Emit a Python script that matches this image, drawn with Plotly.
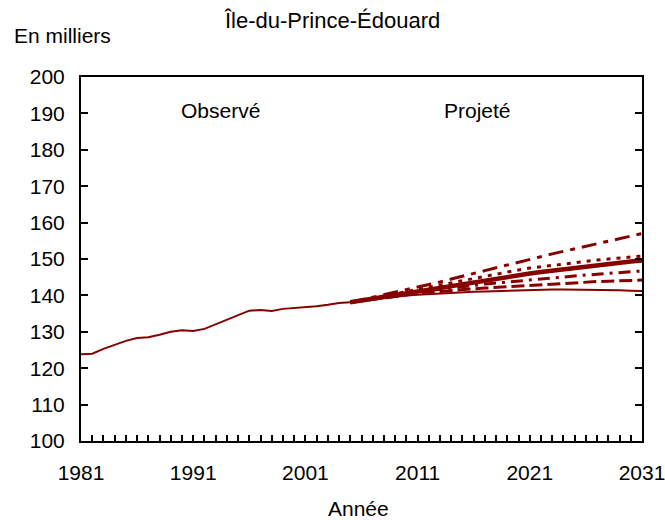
import plotly.graph_objects as go

obs_years = list(range(1981, 2006))
obs_values = [123.8, 124.0, 125.3, 126.5, 127.5, 128.3, 128.5, 129.2, 130.0, 130.4,
              130.2, 130.8, 132.1, 133.4, 134.5, 135.8, 136.0, 135.7, 136.3, 136.5,
              136.7, 137.0, 137.4, 137.9, 138.1]

proj_years = list(range(2005, 2032))
proj_high = [138.1, 138.8, 139.4, 140.1, 140.8, 141.4, 142.1, 142.9, 143.7, 144.5,
             145.2, 146.0, 146.8, 147.6, 148.4, 149.2, 150.0, 150.7, 151.4, 152.1,
             152.8, 153.5, 154.2, 154.9, 155.6, 156.3, 157.0]
proj_dot = [138.1, 138.7, 139.3, 139.9, 140.5, 141.1, 141.6, 142.3, 142.9, 143.6,
            144.2, 144.8, 145.4, 145.9, 146.5, 147.0, 147.5, 147.9, 148.3, 148.7,
            149.1, 149.4, 149.7, 150.0, 150.3, 150.6, 150.8]
proj_ref = [138.1, 138.6, 139.2, 139.7, 140.2, 140.7, 141.2, 141.7, 142.2, 142.8,
            143.3, 143.8, 144.3, 144.8, 145.2, 145.6, 146.0, 146.4, 146.8, 147.2,
            147.6, 148.0, 148.3, 148.7, 149.0, 149.3, 149.6]
proj_dashdot = [138.1, 138.6, 139.1, 139.6, 140.1, 140.5, 140.9, 141.3, 141.7, 142.1,
                142.5, 142.8, 143.1, 143.4, 143.7, 144.0, 144.2, 144.5, 144.8, 145.1,
                145.3, 145.6, 145.8, 146.1, 146.3, 146.5, 146.7]
proj_dash = [138.1, 138.5, 139.0, 139.5, 139.9, 140.3, 140.6, 140.9, 141.1, 141.4,
             141.6, 141.8, 142.0, 142.2, 142.4, 142.6, 142.8, 143.0, 143.2, 143.3,
             143.5, 143.6, 143.8, 143.9, 144.0, 144.1, 144.2]
proj_low = [138.1, 138.5, 138.9, 139.3, 139.7, 140.0, 140.2, 140.4, 140.6, 140.8,
            140.9, 141.0, 141.1, 141.2, 141.3, 141.4, 141.5, 141.5, 141.6, 141.6,
            141.6, 141.6, 141.6, 141.5, 141.4, 141.3, 141.2]

x_tick_years = list(range(1981, 2032))
x_tick_text = [str(y) if (y - 1981) % 10 == 0 else "" for y in x_tick_years]
y_ticks = list(range(100, 201, 10))

RED = "#870000"
FONT = "Liberation Sans, Arial, Helvetica, sans-serif"
FS = 21

fig = go.Figure()
fig.add_trace(go.Scatter(x=obs_years, y=obs_values, mode="lines",
                         line=dict(color=RED, width=2), showlegend=False))
fig.add_trace(go.Scatter(x=proj_years, y=proj_low, mode="lines",
                         line=dict(color=RED, width=2), showlegend=False))
fig.add_trace(go.Scatter(x=proj_years, y=proj_dash, mode="lines",
                         line=dict(color=RED, width=3, dash="13px,5px"), showlegend=False))
fig.add_trace(go.Scatter(x=proj_years, y=proj_dashdot, mode="lines",
                         line=dict(color=RED, width=3, dash="12px,6px,3px,6px"), showlegend=False))
fig.add_trace(go.Scatter(x=proj_years, y=proj_dot, mode="lines",
                         line=dict(color=RED, width=3, dash="4px,6px"), showlegend=False))
fig.add_trace(go.Scatter(x=proj_years, y=proj_high, mode="lines",
                         line=dict(color=RED, width=3, dash="15px,7px,5px,7px"), showlegend=False))
fig.add_trace(go.Scatter(x=proj_years, y=proj_ref, mode="lines",
                         line=dict(color=RED, width=4.5), showlegend=False))

fig.add_annotation(x=1993.4, y=190.9, text="Observé", showarrow=False,
                   font=dict(size=FS, color="black", family=FONT))
fig.add_annotation(x=2016.3, y=190.9, text="Projeté", showarrow=False,
                   font=dict(size=FS, color="black", family=FONT))
fig.add_annotation(text="Île-du-Prince-Édouard", xref="paper", yref="paper",
                   x=(332 - 81) / 561, xanchor="center",
                   y=1 + (77 - 20) / 364, yanchor="middle",
                   showarrow=False, font=dict(size=22, family=FONT))
fig.add_annotation(text="En milliers", xref="paper", yref="paper",
                   x=(12 - 81) / 561, xanchor="left",
                   y=1 + (77 - 36) / 364, yanchor="middle",
                   showarrow=False, font=dict(size=FS, family=FONT))
fig.add_annotation(text="Année", xref="paper", yref="paper",
                   x=(358 - 81) / 561, xanchor="center",
                   y=-(508 - 441) / 364, yanchor="middle",
                   showarrow=False, font=dict(size=FS, family=FONT))

fig.update_layout(
    width=665, height=520,
    margin=dict(l=81, r=23, t=77, b=79, autoexpand=False),
    paper_bgcolor="white", plot_bgcolor="white",
    font=dict(family=FONT, size=FS, color="black"),
    xaxis=dict(range=[1981, 2031], tickmode="array", tickvals=x_tick_years,
               ticktext=x_tick_text, ticks="inside", ticklen=6, tickwidth=1.5,
               tickcolor="black", showline=True, linecolor="black", linewidth=2,
               mirror=True, showgrid=False, zeroline=False, automargin=False,
               ticklabelstandoff=12, ticklabeloverflow="allow"),
    yaxis=dict(range=[100, 200], tickvals=y_ticks, ticks="inside", ticklen=7,
               tickwidth=1.5, tickcolor="black", showline=True, linecolor="black",
               linewidth=2, mirror="ticks", showgrid=False, zeroline=False,
               automargin=False, ticklabelstandoff=10, ticklabeloverflow="allow"),
)

fig.write_html("out.html", config={"displayModeBar": False},
               post_script="document.body.style.margin='0';document.body.style.padding='0';")
